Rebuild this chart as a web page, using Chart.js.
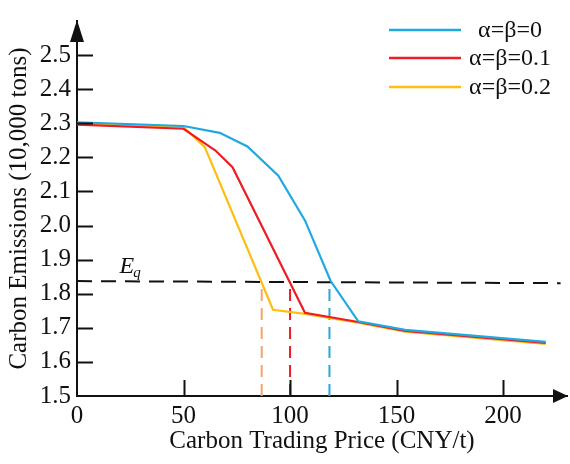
<!DOCTYPE html>
<html>
<head>
<meta charset="utf-8">
<script src="https://cdn.jsdelivr.net/npm/chart.js@4"></script>
<style>
  html, body { margin: 0; padding: 0; background: #fff; }
  #wrap { width: 570px; height: 464px; position: relative; }
</style>
</head>
<body>
<div id="wrap"><canvas id="emissions-chart"></canvas></div>
<script>
/* Carbon emissions vs. carbon trading price for three α=β settings */

const seriesLabels = ['α=β=0', 'α=β=0.1', 'α=β=0.2'];
const seriesColors = ['#1ea9e1', '#ee1d24', '#fdbe10'];

const prices0 = [0, 50, 67, 80, 94.5, 107, 119, 132, 154, 220];
const emissions0 = [2.303, 2.292, 2.272, 2.232, 2.146, 2.015, 1.838, 1.719, 1.694, 1.659];

const prices1 = [0, 50, 65, 73, 107, 132, 154, 220];
const emissions1 = [2.296, 2.284, 2.22, 2.171, 1.744, 1.717, 1.691, 1.656];

const prices2 = [0, 50, 60, 92, 107, 132, 154, 220];
const emissions2 = [2.300, 2.289, 2.23, 1.753, 1.741, 1.715, 1.689, 1.653];

// E_q reference level and the prices where each curve reaches it
const eqPrices = [0, 227];
const eqLevels = [1.837, 1.831];
const dropPrices = [86.7, 100, 118.5];
const dropTop = 1.835;
const dropColors = ['#f4a46c', '#ee1d24', '#2aa6d8'];

const xTicks = [0, 50, 100, 150, 200];
const yTicks = [1.5, 1.6, 1.7, 1.8, 1.9, 2.0, 2.1, 2.2, 2.3, 2.4, 2.5];

const SERIF = '"Liberation Serif", "Times New Roman", serif';

function toPoints(xs, ys) {
  return xs.map((x, i) => ({ x: x, y: ys[i] }));
}

const curves = [[prices0, emissions0], [prices1, emissions1], [prices2, emissions2]].map((pair, i) => ({
  label: seriesLabels[i],
  data: toPoints(pair[0], pair[1]),
  borderColor: seriesColors[i],
  borderWidth: 2.2,
  pointRadius: 0,
  tension: 0
}));

const eqLine = {
  label: 'Eq',
  data: toPoints(eqPrices, eqLevels),
  borderColor: '#111',
  borderWidth: 2,
  borderDash: [15, 9],
  pointRadius: 0
};

const drops = dropPrices.map((p, i) => ({
  label: 'drop' + i,
  data: [{ x: p, y: 1.5 }, { x: p, y: dropTop }],
  borderColor: dropColors[i],
  borderWidth: 2,
  borderDash: [12, 7],
  pointRadius: 0
}));

// arrows, inward tick marks, E_q label and the legend
const decorations = {
  id: 'decorations',
  afterDatasetsDraw(chart) {
    const ctx = chart.ctx;
    const xs = chart.scales.x;
    const ys = chart.scales.y;
    const left = chart.chartArea.left;
    const bottom = chart.chartArea.bottom;

    ctx.save();
    ctx.strokeStyle = '#111';
    ctx.fillStyle = '#111';
    ctx.lineWidth = 2;

    // tick marks point into the plot
    yTicks.slice(1).forEach(v => {
      const y = Math.round(ys.getPixelForValue(v)) + 0.5;
      ctx.beginPath();
      ctx.moveTo(left, y);
      ctx.lineTo(left + 16, y);
      ctx.stroke();
    });
    xTicks.slice(1).forEach(v => {
      const x = Math.round(xs.getPixelForValue(v)) + 0.5;
      ctx.beginPath();
      ctx.moveTo(x, bottom);
      ctx.lineTo(x, bottom - 16);
      ctx.stroke();
    });

    // arrow heads
    const top = chart.chartArea.top;
    ctx.beginPath();
    ctx.moveTo(left, top - 1);
    ctx.lineTo(left - 7, top + 21);
    ctx.lineTo(left + 7, top + 21);
    ctx.closePath();
    ctx.fill();

    const right = chart.chartArea.right;
    ctx.beginPath();
    ctx.moveTo(right + 1, bottom);
    ctx.lineTo(right - 14, bottom - 7);
    ctx.lineTo(right - 14, bottom + 7);
    ctx.closePath();
    ctx.fill();

    // E_q
    const ex = xs.getPixelForValue(20);
    const ey = ys.getPixelForValue(1.86);
    ctx.textBaseline = 'alphabetic';
    ctx.textAlign = 'left';
    ctx.font = 'italic 24px ' + SERIF;
    ctx.fillText('E', ex, ey);
    const ew = ctx.measureText('E').width;
    ctx.font = 'italic 15px ' + SERIF;
    ctx.fillText('q', ex + ew - 1, ey + 4);

    // legend
    ctx.font = '24px ' + SERIF;
    ctx.textAlign = 'center';
    ctx.textBaseline = 'middle';
    const rows = [30, 58, 87];
    seriesLabels.forEach((label, i) => {
      ctx.strokeStyle = seriesColors[i];
      ctx.lineWidth = 2.5;
      ctx.beginPath();
      ctx.moveTo(389, rows[i]);
      ctx.lineTo(461, rows[i]);
      ctx.stroke();
      ctx.fillStyle = '#111';
      ctx.fillText(label, 510, rows[i] + 1);
    });
    ctx.restore();
  }
};

new Chart(document.getElementById('emissions-chart'), {
  type: 'line',
  data: { datasets: curves.concat([eqLine]).concat(drops) },
  options: {
    responsive: true,
    maintainAspectRatio: false,
    animation: false,
    layout: { padding: { top: 6, right: 3, left: 0, bottom: 0 } },
    plugins: { legend: { display: false }, tooltip: { enabled: false } },
    scales: {
      x: {
        type: 'linear',
        min: 0,
        max: 230,
        afterFit: scale => { scale.height = 68; },
        afterBuildTicks: scale => { scale.ticks = xTicks.map(v => ({ value: v })); },
        grid: { display: false, drawTicks: false },
        border: { color: '#111', width: 2 },
        ticks: {
          color: '#111',
          padding: 5,
          font: { family: SERIF, size: 25 },
          callback: v => String(v)
        },
        title: {
          display: true,
          text: 'Carbon Trading Price (CNY/t)',
          color: '#111',
          font: { family: SERIF, size: 25 },
          padding: { top: 0, bottom: 8 }
        }
      },
      y: {
        type: 'linear',
        min: 1.5,
        max: 2.6,
        afterFit: scale => { scale.width = 77; },
        afterBuildTicks: scale => { scale.ticks = yTicks.map(v => ({ value: v })); },
        grid: { display: false, drawTicks: false },
        border: { color: '#111', width: 2 },
        ticks: {
          color: '#111',
          padding: 6,
          font: { family: SERIF, size: 25 },
          callback: v => v.toFixed(1)
        },
        title: {
          display: true,
          text: 'Carbon Emissions (10,000 tons)',
          color: '#111',
          font: { family: SERIF, size: 25 },
          padding: { top: 4, bottom: 0 }
        }
      }
    }
  },
  plugins: [decorations]
});
</script>
</body>
</html>
